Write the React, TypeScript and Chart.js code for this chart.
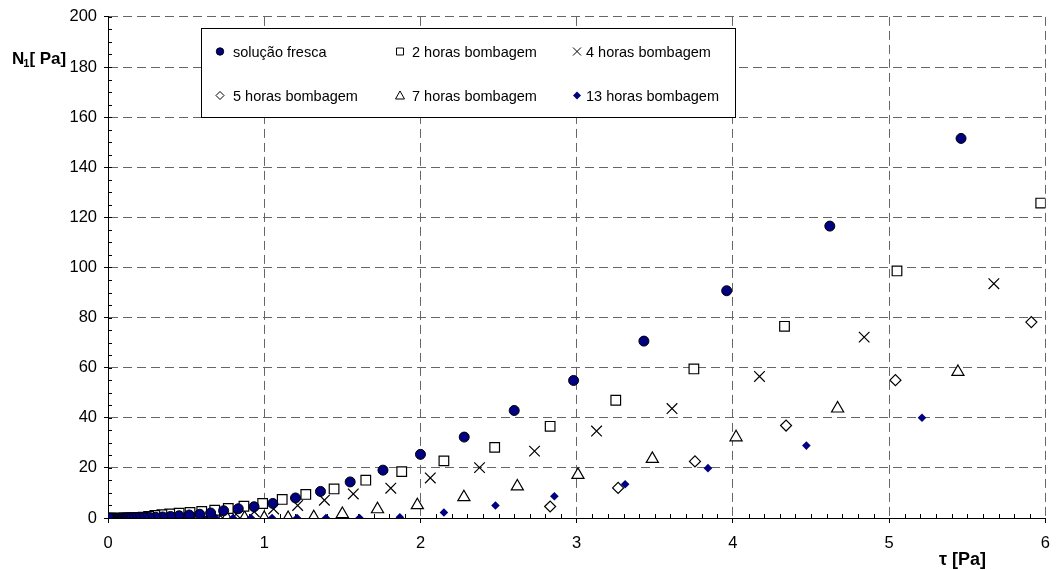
import React, { useEffect, useRef } from 'react';
import { Chart, registerables } from 'chart.js';

Chart.register(...registerables);

// ---- data ----
const freshX = [5.46, 4.62, 3.96, 3.43, 2.98, 2.6, 2.28, 2.0, 1.76, 1.55, 1.36, 1.2, 1.055, 0.935, 0.834, 0.74, 0.657, 0.587, 0.52, 0.455, 0.4, 0.35, 0.305, 0.265, 0.23, 0.2, 0.175, 0.15, 0.13, 0.11, 0.095, 0.08, 0.068, 0.057, 0.047, 0.038, 0.03, 0.022, 0.015, 0.008, 0.002];
const freshY = [151.5, 116.5, 90.7, 70.6, 54.9, 42.9, 32.3, 25.4, 19.1, 14.4, 10.6, 8.0, 5.8, 4.5, 3.7, 2.9, 2.0, 1.5, 1.2, 0.9, 0.6, 0.4, 0.3, 0.2, 0.15, 0.1, 0.1, 0.05, 0.05, 0, 0, 0, 0, 0, 0, 0, 0, 0, 0, 0, 0];

const h2X = [5.97, 5.05, 4.33, 3.75, 3.25, 2.83, 2.475, 2.15, 1.88, 1.65, 1.447, 1.266, 1.115, 0.99, 0.87, 0.77, 0.683, 0.6, 0.525, 0.455, 0.395, 0.345, 0.3, 0.26, 0.225, 0.195, 0.17, 0.145, 0.125, 0.105];
const h2Y = [125.7, 98.6, 76.5, 59.5, 47.0, 36.6, 28.2, 22.8, 18.5, 15.1, 11.6, 9.4, 7.4, 5.8, 4.7, 3.8, 3.1, 2.6, 2.2, 1.9, 1.6, 1.3, 1.0, 0.6, 0.3, 0.2, 0.1, 0, 0, 0];

const h4X = [5.67, 4.84, 4.17, 3.61, 3.127, 2.73, 2.378, 2.063, 1.81, 1.57, 1.385, 1.214, 1.06, 0.936, 0.82, 0.72, 0.63, 0.55, 0.48, 0.42, 0.365, 0.32];
const h4Y = [93.5, 72.2, 56.5, 43.7, 34.7, 26.7, 20.1, 16.0, 11.9, 9.6, 7.1, 5.0, 3.6, 2.5, 1.5, 0.9, 0.5, 0.3, 0.2, 0.1, 0, 0];

const h5X = [5.91, 5.04, 4.34, 3.757, 3.265, 2.83];
const h5Y = [78.2, 55.0, 36.9, 22.6, 12.0, 4.6];

const h7X = [5.44, 4.67, 4.02, 3.484, 3.008, 2.62, 2.278, 1.98, 1.725, 1.5, 1.317, 1.153, 1.0, 0.874, 0.76, 0.66, 0.575, 0.5];
const h7Y = [58.3, 43.7, 32.2, 23.6, 17.2, 12.6, 8.3, 5.1, 3.5, 1.6, 0.3, 0, 0, 0, 0, 0, 0, 0];

const h13X = [5.21, 4.47, 3.84, 3.31, 2.857, 2.48, 2.15, 1.868, 1.61, 1.395, 1.21, 1.05, 0.915, 0.8, 0.69, 0.61, 0.53, 0.46, 0.4, 0.35, 0.3, 0.26, 0.225, 0.195, 0.17, 0.145, 0.125, 0.105, 0.09, 0.075, 0.06, 0.045, 0.03, 0.015, 0.003];
const h13Y = [40.0, 28.9, 19.9, 13.5, 8.7, 5.0, 2.2, 0.3, 0, 0, 0, 0, 0, 0, 0, 0, 0, 0, 0, 0, 0, 0, 0, 0, 0, 0, 0, 0, 0, 0, 0, 0, 0, 0, 0];

const seriesLabels = [
  'solução fresca',
  '2 horas bombagem',
  '4 horas bombagem',
  '5 horas bombagem',
  '7 horas bombagem',
  '13 horas bombagem',
];

const xTicks = [0, 1, 2, 3, 4, 5, 6];
const yTicks = [0, 20, 40, 60, 80, 100, 120, 140, 160, 180, 200];

const NAVY = '#000080';
const FONT = "'Liberation Sans', Arial, sans-serif";

function pts(xs: number[], ys: number[]) {
  return xs.map((x, i) => ({ x, y: ys[i] }));
}

// ---- legend / extras plugin ----
function drawMarker(ctx: CanvasRenderingContext2D, kind: number, x: number, y: number) {
  ctx.save();
  ctx.lineWidth = 1;
  ctx.strokeStyle = '#000';
  ctx.beginPath();
  if (kind === 0) {
    ctx.arc(x, y, 3.7, 0, Math.PI * 2);
    ctx.fillStyle = NAVY;
    ctx.fill();
    ctx.stroke();
  } else if (kind === 1) {
    ctx.rect(x - 3.5, y - 3.5, 7, 7);
    ctx.fillStyle = '#fff';
    ctx.fill();
    ctx.stroke();
  } else if (kind === 2) {
    ctx.moveTo(x - 4, y - 4);
    ctx.lineTo(x + 4, y + 4);
    ctx.moveTo(x + 4, y - 4);
    ctx.lineTo(x - 4, y + 4);
    ctx.stroke();
  } else if (kind === 3) {
    ctx.moveTo(x, y - 4);
    ctx.lineTo(x + 4, y);
    ctx.lineTo(x, y + 4);
    ctx.lineTo(x - 4, y);
    ctx.closePath();
    ctx.fillStyle = '#fff';
    ctx.fill();
    ctx.stroke();
  } else if (kind === 4) {
    ctx.moveTo(x, y - 4.5);
    ctx.lineTo(x + 4.5, y + 3.5);
    ctx.lineTo(x - 4.5, y + 3.5);
    ctx.closePath();
    ctx.fillStyle = '#fff';
    ctx.fill();
    ctx.stroke();
  } else {
    ctx.moveTo(x, y - 4);
    ctx.lineTo(x + 4, y);
    ctx.lineTo(x, y + 4);
    ctx.lineTo(x - 4, y);
    ctx.closePath();
    ctx.fillStyle = NAVY;
    ctx.fill();
  }
  ctx.restore();
}

const extrasPlugin = {
  id: 'extras',
  beforeDatasetsDraw(chart: any) {
    const ctx: CanvasRenderingContext2D = chart.ctx;
    const xs = chart.scales.x;
    const ys = chart.scales.y;
    const { left, bottom } = chart.chartArea;
    ctx.save();
    ctx.strokeStyle = '#000';
    ctx.lineWidth = 1;
    ctx.beginPath();
    // x minor ticks (inside)
    for (let i = 1; i < 60; i++) {
      if (i % 10 === 0) continue;
      const px = Math.round(xs.getPixelForValue(i / 10)) + 0.5;
      ctx.moveTo(px, bottom);
      ctx.lineTo(px, bottom - 4);
    }
    // y minor ticks (inside) and major inner part
    for (let v = 5; v <= 200; v += 5) {
      const py = Math.round(ys.getPixelForValue(v)) + 0.5;
      ctx.moveTo(left, py);
      ctx.lineTo(left + 4, py);
    }
    ctx.stroke();
    ctx.restore();
  },
  afterDraw(chart: any) {
    const ctx: CanvasRenderingContext2D = chart.ctx;
    ctx.save();
    // legend box
    ctx.fillStyle = '#fff';
    ctx.fillRect(201, 28, 534, 89);
    ctx.strokeStyle = '#000';
    ctx.lineWidth = 1;
    ctx.strokeRect(201.5, 28.5, 534, 89);
    const markX = [220, 400, 577];
    const textX = [233, 412, 586];
    const rowY = [51.5, 95.5];
    ctx.font = `14.5px ${FONT}`;
    ctx.textBaseline = 'middle';
    ctx.textAlign = 'left';
    seriesLabels.forEach((lab, i) => {
      const c = i % 3;
      const r = Math.floor(i / 3);
      drawMarker(ctx, i, markX[c], rowY[r]);
      ctx.fillStyle = '#000';
      ctx.fillText(lab, textX[c], rowY[r] + 1);
    });
    // axis titles
    ctx.fillStyle = '#000';
    ctx.font = `bold 18px ${FONT}`;
    ctx.textBaseline = 'middle';
    ctx.fillText('τ [Pa]', 939, 560);
    // N1 [Pa]
    let x = 12;
    ctx.font = `bold 17px ${FONT}`;
    ctx.fillText('N', x, 59);
    x += ctx.measureText('N').width;
    ctx.font = `bold 11px ${FONT}`;
    ctx.fillText('1', x - 1, 64);
    x += ctx.measureText('1').width - 1;
    ctx.font = `bold 17px ${FONT}`;
    ctx.fillText('[ Pa]', x, 59);
    ctx.restore();
  },
};

export default function App() {
  const ref = useRef<HTMLCanvasElement | null>(null);

  useEffect(() => {
    document.body.style.margin = '0';
    const canvas = ref.current;
    if (!canvas) return;
    const tickFont = { family: FONT, size: 16.5 };
    const chart = new Chart(canvas, {
      type: 'scatter',
      data: {
        datasets: [
          {
            label: seriesLabels[0],
            data: pts(freshX, freshY),
            pointStyle: 'circle',
            pointRadius: 5,
            pointBackgroundColor: NAVY,
            pointBorderColor: '#000',
            pointBorderWidth: 1,
          },
          {
            label: seriesLabels[5],
            data: pts(h13X, h13Y),
            pointStyle: 'rectRot',
            pointRadius: 4.3,
            pointBackgroundColor: NAVY,
            pointBorderColor: NAVY,
            pointBorderWidth: 0,
          },
          {
            label: seriesLabels[1],
            data: pts(h2X, h2Y),
            pointStyle: 'rect',
            pointRadius: 6.8,
            pointBackgroundColor: '#fff',
            pointBorderColor: '#000',
            pointBorderWidth: 1.2,
          },
          {
            label: seriesLabels[2],
            data: pts(h4X, h4Y),
            pointStyle: 'crossRot',
            pointRadius: 7.5,
            pointBackgroundColor: '#000',
            pointBorderColor: '#000',
            pointBorderWidth: 1.2,
          },
          {
            label: seriesLabels[3],
            data: pts(h5X, h5Y),
            pointStyle: 'rectRot',
            pointRadius: 5.5,
            pointBackgroundColor: '#fff',
            pointBorderColor: '#000',
            pointBorderWidth: 1.2,
          },
          {
            label: seriesLabels[4],
            data: pts(h7X, h7Y),
            pointStyle: 'triangle',
            pointRadius: 7,
            pointBackgroundColor: '#fff',
            pointBorderColor: '#000',
            pointBorderWidth: 1.2,
          },
        ],
      },
      options: {
        animation: false,
        responsive: false,
        maintainAspectRatio: false,
        layout: { padding: { top: 15, right: 12, left: 0, bottom: 0 } },
        plugins: { legend: { display: false }, tooltip: { enabled: false } },
        scales: {
          x: {
            type: 'linear',
            min: 0,
            max: 6,
            afterBuildTicks: (s: any) => {
              s.ticks = xTicks.map((v) => ({ value: v }));
            },
            afterFit: (s: any) => {
              s.height = 52;
            },
            grid: {
              color: '#666',
              lineWidth: 1,
              tickLength: 5,
              tickColor: '#000',
              tickWidth: 1,
            },
            border: { display: true, color: '#000', width: 1, dash: [9, 5] },
            ticks: { color: '#000', font: tickFont, padding: 11, maxRotation: 0 },
          },
          y: {
            type: 'linear',
            min: 0,
            max: 200,
            afterBuildTicks: (s: any) => {
              s.ticks = yTicks.map((v) => ({ value: v }));
            },
            afterFit: (s: any) => {
              s.width = 108;
            },
            grid: {
              color: '#666',
              lineWidth: 1,
              tickLength: 4,
              tickColor: '#000',
              tickWidth: 1,
            },
            border: { display: true, color: '#000', width: 1, dash: [9, 5] },
            ticks: { color: '#000', font: tickFont, padding: 7 },
          },
        },
      },
      plugins: [extrasPlugin],
    } as any);
    return () => chart.destroy();
  }, []);

  return (
    <div style={{ width: 1061, height: 570 }}>
      <canvas ref={ref} width={1061} height={570} style={{ display: 'block' }} />
    </div>
  );
}
